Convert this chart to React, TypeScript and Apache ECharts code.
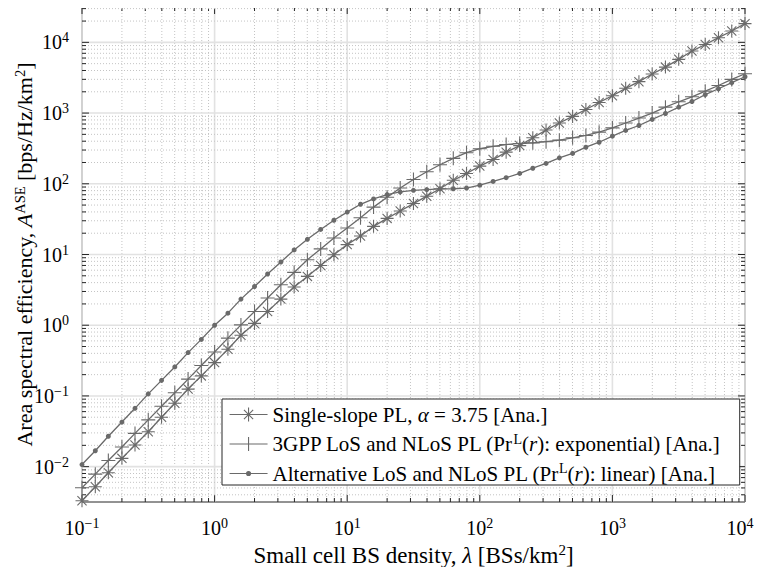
import React, { useEffect, useRef } from 'react';
import * as echarts from 'echarts';

// Small cell BS density (BSs/km^2)
const lambda = [
  0.1, 0.126, 0.158, 0.2, 0.251, 0.316, 0.398, 0.501, 0.631, 0.794,
  1, 1.26, 1.58, 2, 2.51, 3.16, 3.98, 5.01, 6.31, 7.94,
  10, 12.6, 15.8, 20, 25.1, 31.6, 39.8, 50.1, 63.1, 79.4,
  100, 126, 158, 200, 251, 316, 398, 501, 631, 794,
  1000, 1259, 1585, 1995, 2512, 3162, 3981, 5012, 6310, 7943, 10000,
];

// Single-slope PL, alpha = 3.75 [Ana.]
const singleSlope = [
  0.0033, 0.0052, 0.0082, 0.0131, 0.0202, 0.0312, 0.0499, 0.0789, 0.125, 0.192,
  0.296, 0.458, 0.72, 1.06, 1.56, 2.34, 3.47, 4.9, 7.0, 9.9,
  13.8, 18.3, 25.0, 32.4, 41.2, 52.5, 66.8, 85.1, 112, 140,
  178, 220, 280, 347, 447, 575, 724, 897, 1122, 1413,
  1758, 2239, 2780, 3573, 4467, 5754, 7534, 9333, 11641, 14454, 18408,
];

// 3GPP LoS and NLoS PL (exponential) [Ana.]
const threeGpp = [
  0.00504, 0.00783, 0.0122, 0.019, 0.0295, 0.0459, 0.0714, 0.111, 0.173, 0.269,
  0.419, 0.656, 1.01, 1.56, 2.42, 3.73, 5.58, 8.43, 12.0, 17.1,
  23.7, 33.1, 46.8, 64.6, 87.1, 115, 148, 186, 229, 275,
  313, 339, 359, 372, 379, 394, 414, 447, 482, 537,
  617, 724, 851, 1000, 1213, 1445, 1698, 2042, 2455, 2992, 3597,
];

// Alternative LoS and NLoS PL (linear) [Ana.]
const alternative = [
  0.0107, 0.0168, 0.0269, 0.0427, 0.0668, 0.107, 0.166, 0.257, 0.41, 0.63,
  1.0, 1.48, 2.34, 3.53, 5.3, 7.83, 11.6, 16.4, 22.6, 30.5,
  39.8, 51.3, 61.1, 70.3, 76.7, 80.9, 82.8, 84.7, 85.1, 87.1,
  95.5, 108, 122, 140, 166, 194, 233, 269, 329, 387,
  471, 568, 667, 813, 986, 1213, 1459, 1820, 2208, 2692, 3266,
];

const seriesNames = [
  'Single-slope PL, α = 3.75 [Ana.]',
  '3GPP LoS and NLoS PL (PrL(r): exponential) [Ana.]',
  'Alternative LoS and NLoS PL (PrL(r): linear) [Ana.]',
];

// Decade exponents of the axes
const xDecades = [-1, 0, 1, 2, 3, 4];
const yDecades = [-3, -2, -1, 0, 1, 2, 3, 4];
const minorMultipliers = [2, 3, 4, 5, 6, 7, 8, 9];

const X_MIN = -1;
const X_MAX = 4;
const Y_MIN = -2.5;
const Y_MAX = 4.5;

const FONT = 'Liberation Serif';
const GRAY = '#6a6a6a';

const ASTERISK = 'path://M0,-10L0,10M-10,0L10,0M-7.07,-7.07L7.07,7.07M-7.07,7.07L7.07,-7.07';
const PLUS = 'path://M0,-10L0,10M-10,0L10,0';

const LEG_ASTERISK = 'path://M0,7L38,7M19,0L19,14M12.5,7L25.5,7M14.4,2.4L23.6,11.6M14.4,11.6L23.6,2.4';
const LEG_PLUS = 'path://M0,7L38,7M19,0L19,14';
const LEG_DOT = 'path://M0,7L38,7M19,0L19,0M19,14L19,14M17,7A2,2,0,1,0,21,7A2,2,0,1,0,17,7Z';

function supLabel(v: number, last = false): string {
  const e = Math.round(v);
  const s = e < 0 ? '\u2212' + Math.abs(e) : String(e);
  return `{b|10}{${last ? 'sl' : 's'}|${s}}`;
}

export default function App() {
  const ref = useRef<HTMLDivElement>(null);

  useEffect(() => {
    if (!ref.current) return;
    const chart = echarts.init(ref.current, null, { renderer: 'svg' });

    const gridData: number[][] = [];
    for (const d of xDecades) {
      if (d >= X_MIN && d <= X_MAX) gridData.push([0, d, 1]);
      for (const m of minorMultipliers) {
        const v = d + Math.log10(m);
        if (v > X_MIN && v < X_MAX) gridData.push([0, v, 0]);
      }
    }
    for (const d of yDecades) {
      if (d >= Y_MIN && d <= Y_MAX) gridData.push([1, d, 1]);
      for (const m of minorMultipliers) {
        const v = d + Math.log10(m);
        if (v > Y_MIN && v < Y_MAX) gridData.push([1, v, 0]);
      }
    }

    const toPts = (ys: number[]) => lambda.map((x, i) => [Math.log10(x), Math.log10(ys[i])]);

    const supRich = {
      b: { fontFamily: FONT, fontSize: 20, color: '#000' },
      s: { fontFamily: FONT, fontSize: 14, color: '#000', padding: [0, 0, 9, 0] },
      sl: { fontFamily: FONT, fontSize: 14, color: '#000', padding: [0, 10, 9, 0] },
    };
    const nameRich = (size: number, sup: number, pad: number) => ({
      n: { fontFamily: FONT, fontSize: size, color: '#000' },
      i: { fontFamily: FONT, fontSize: size, color: '#000', fontStyle: 'italic' },
      s: { fontFamily: FONT, fontSize: sup, color: '#000', padding: [0, 0, pad, 0] },
    });

    const tickStyle = { stroke: '#262626', lineWidth: 1 };

    const option: any = {
      animation: false,
      backgroundColor: '#fff',
      textStyle: { fontFamily: FONT },
      grid: {
        left: 82,
        top: 7,
        width: 663,
        height: 495,
        containLabel: false,
        outerBoundsMode: 'none',
        show: true,
        borderColor: '#262626',
        borderWidth: 1,
        backgroundColor: 'transparent',
      },
      xAxis: {
        type: 'value',
        min: X_MIN,
        max: X_MAX,
        interval: 1,
        axisLine: { show: false },
        axisTick: { show: false },
        splitLine: { show: false },
        axisLabel: {
          margin: 14,
          fontFamily: FONT,
          fontSize: 20,
          formatter: (v: number) => supLabel(v, Math.round(v) === X_MAX),
          rich: supRich,
        },
        name: '{n|Small cell BS density, }{i|λ}{n| [BSs/km}{s|2}{n|]}',
        nameLocation: 'middle',
        nameGap: 40,
        nameMoveOverlap: false,
        nameTextStyle: { fontFamily: FONT, fontSize: 23, rich: nameRich(23, 15, 11) },
      },
      yAxis: {
        type: 'value',
        min: Y_MIN,
        max: Y_MAX,
        interval: 0.5,
        axisLine: { show: false },
        axisTick: { show: false },
        splitLine: { show: false },
        axisLabel: {
          margin: 13,
          fontFamily: FONT,
          fontSize: 20,
          formatter: (v: number) => (Math.abs(v - Math.round(v)) > 1e-6 ? '' : supLabel(v)),
          rich: supRich,
        },
        name: '{n|Area spectral efficiency, }{i|A}{s|ASE}{n| [bps/Hz/km}{s|2}{n|]}',
        nameLocation: 'middle',
        nameRotate: 90,
        nameGap: 45,
        nameMoveOverlap: false,
        nameTextStyle: { fontFamily: FONT, fontSize: 22, rich: nameRich(22, 14.5, 10) },
      },
      legend: {
        orient: 'vertical',
        left: 222,
        top: 399,
        padding: [5, 20, 1, 7],
        itemGap: 7,
        itemWidth: 38,
        itemHeight: 14,
        backgroundColor: '#fff',
        borderColor: '#262626',
        borderWidth: 1,
        borderRadius: 0,
        selectedMode: false,
        itemStyle: { color: GRAY, borderColor: GRAY, borderWidth: 1.1 },
        data: [
          { name: seriesNames[0], icon: LEG_ASTERISK },
          { name: seriesNames[1], icon: LEG_PLUS },
          { name: seriesNames[2], icon: LEG_DOT },
        ],
        formatter: (name: string) => {
          if (name === seriesNames[0]) return '{n|Single-slope PL, }{i|α}{n| = 3.75 [Ana.]}';
          if (name === seriesNames[1])
            return '{n|3GPP LoS and NLoS PL (Pr}{s|L}{n|(}{i|r}{n|): exponential) [Ana.]}';
          return '{n|Alternative LoS and NLoS PL (Pr}{s|L}{n|(}{i|r}{n|): linear) [Ana.]}';
        },
        textStyle: {
          color: '#000',
          fontFamily: FONT,
          fontSize: 21,
          rich: {
            n: { fontFamily: FONT, fontSize: 21, color: '#000' },
            i: { fontFamily: FONT, fontSize: 21, color: '#000', fontStyle: 'italic' },
            s: { fontFamily: FONT, fontSize: 14, color: '#000', padding: [0, 0, 10, 0] },
          },
        },
      },
      series: [
        {
          type: 'custom',
          silent: true,
          z: 1,
          clip: false,
          data: gridData,
          encode: { x: 1, y: 1 },
          renderItem: (params: any, api: any) => {
            const axis = api.value(0);
            const v = api.value(1);
            const major = api.value(2) === 1;
            const cs = params.coordSys;
            const gridStyle = major
              ? { stroke: '#e2e2e2', lineWidth: 1.6 }
              : { stroke: '#c4c4c4', lineWidth: 1, lineDash: [1, 2] };
            const len = major ? 7 : 4;
            if (axis === 0) {
              const px = api.coord([v, Y_MIN])[0];
              return {
                type: 'group',
                children: [
                  { type: 'line', shape: { x1: px, y1: cs.y, x2: px, y2: cs.y + cs.height }, style: gridStyle },
                  { type: 'line', shape: { x1: px, y1: cs.y + cs.height, x2: px, y2: cs.y + cs.height - len }, style: tickStyle },
                  { type: 'line', shape: { x1: px, y1: cs.y, x2: px, y2: cs.y + len }, style: tickStyle },
                ],
              };
            }
            const py = api.coord([X_MIN, v])[1];
            return {
              type: 'group',
              children: [
                { type: 'line', shape: { x1: cs.x, y1: py, x2: cs.x + cs.width, y2: py }, style: gridStyle },
                { type: 'line', shape: { x1: cs.x, y1: py, x2: cs.x + len, y2: py }, style: tickStyle },
                { type: 'line', shape: { x1: cs.x + cs.width, y1: py, x2: cs.x + cs.width - len, y2: py }, style: tickStyle },
              ],
            };
          },
        },
        {
          name: seriesNames[0],
          type: 'line',
          z: 3,
          data: toPts(singleSlope),
          symbol: ASTERISK,
          symbolSize: 13,
          lineStyle: { color: GRAY, width: 1.3 },
          itemStyle: { color: GRAY, borderColor: GRAY, borderWidth: 1.1 },
        },
        {
          name: seriesNames[1],
          type: 'line',
          z: 3,
          data: toPts(threeGpp),
          symbol: PLUS,
          symbolSize: 14,
          lineStyle: { color: GRAY, width: 1.3 },
          itemStyle: { color: GRAY, borderColor: GRAY, borderWidth: 1.1 },
        },
        {
          name: seriesNames[2],
          type: 'line',
          z: 3,
          data: toPts(alternative),
          symbol: 'circle',
          symbolSize: 5,
          lineStyle: { color: GRAY, width: 1.3 },
          itemStyle: { color: GRAY, borderColor: GRAY, borderWidth: 0 },
        },
      ],
    };

    chart.setOption(option);
    return () => chart.dispose();
  }, []);

  return <div ref={ref} style={{ width: 762, height: 575, margin: -8 }} />;
}
